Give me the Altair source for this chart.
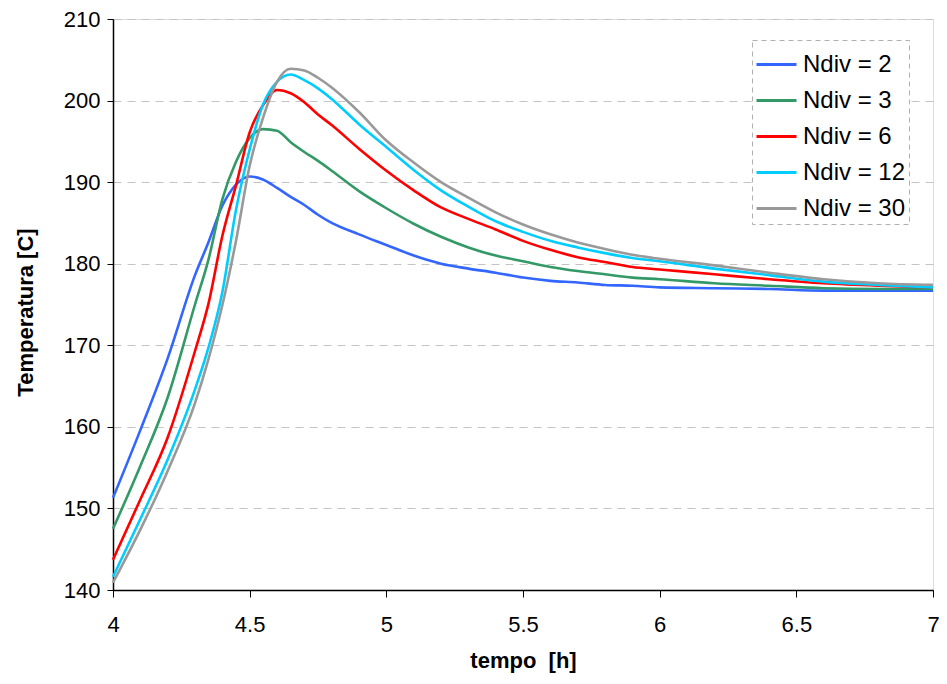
import altair as alt
import pandas as pd

# time [h]
tempo = [4.0, 4.1, 4.2, 4.3, 4.35, 4.4, 4.45, 4.5, 4.55, 4.6, 4.65, 4.7, 4.75, 4.8,
         4.9, 5.0, 5.1, 5.2, 5.3, 5.4, 5.5, 5.6, 5.7, 5.8, 5.9, 6.0, 6.2, 6.4, 6.6, 6.8, 7.0]

ndiv2 = [151.3, 159.6, 168.4, 178.6, 182.7, 187.1, 189.7, 190.7, 190.3, 189.3, 188.2, 187.2,
         186.0, 185.0, 183.6, 182.3, 181.0, 180.0, 179.4, 178.9, 178.3, 177.9, 177.7, 177.4,
         177.3, 177.1, 177.0, 176.9, 176.7, 176.7, 176.7]
ndiv3 = [147.5, 155.2, 163.6, 175.0, 180.6, 187.9, 192.5, 195.4, 196.5, 196.3, 194.9, 193.7,
         192.6, 191.4, 188.9, 186.8, 184.9, 183.3, 182.0, 181.0, 180.3, 179.6, 179.1, 178.7,
         178.3, 178.1, 177.6, 177.3, 177.0, 176.9, 176.9]
ndiv6 = [143.7, 151.1, 158.7, 169.3, 175.2, 183.4, 189.6, 196.1, 199.5, 201.3, 200.9, 199.8,
         198.3, 197.0, 194.1, 191.4, 189.0, 186.9, 185.5, 184.2, 182.8, 181.7, 180.8, 180.2,
         179.6, 179.3, 178.7, 178.1, 177.6, 177.3, 177.1]
ndiv12 = [141.6, 148.7, 156.0, 164.6, 169.8, 176.5, 186.6, 194.0, 199.6, 202.3, 203.2, 202.5,
          201.5, 200.2, 197.1, 194.3, 191.5, 189.0, 187.0, 185.2, 183.9, 182.8, 182.0, 181.3,
          180.7, 180.3, 179.4, 178.6, 177.8, 177.4, 177.1]
ndiv30 = [140.9, 147.4, 154.6, 162.9, 168.4, 174.9, 182.8, 192.0, 198.0, 202.3, 203.9, 203.7,
          202.8, 201.6, 198.6, 195.1, 192.4, 190.0, 188.1, 186.3, 184.8, 183.6, 182.6, 181.8,
          181.1, 180.6, 179.8, 178.9, 178.1, 177.6, 177.4]

series_names = ["Ndiv = 2", "Ndiv = 3", "Ndiv = 6", "Ndiv = 12", "Ndiv = 30"]
series_vals = [ndiv2, ndiv3, ndiv6, ndiv12, ndiv30]
series_colors = ["#3366FF", "#339966", "#FF0000", "#00CCFF", "#999999"]

x_ticks = [4, 4.5, 5, 5.5, 6, 6.5, 7]
y_ticks = [140, 150, 160, 170, 180, 190, 200, 210]

rows = []
for name, vals in zip(series_names, series_vals):
    for t, v in zip(tempo, vals):
        rows.append({"tempo": t, "T": v, "serie": name})
df = pd.DataFrame(rows)

FONT = "Liberation Sans"

chart = alt.Chart(df).mark_line(strokeWidth=2.6, interpolate="monotone").encode(
    x=alt.X("tempo:Q",
            scale=alt.Scale(domain=[4, 7], nice=False, zero=False),
            axis=alt.Axis(values=x_ticks, labelExpr="datum.value",
                          title="tempo\u00a0\u00a0[h]",
                          grid=False, tickSize=7, labelPadding=17, labelFontSize=22,
                          titleFontSize=22, titleFontWeight="bold", titlePadding=15,
                          domainColor="black", tickColor="black", domainWidth=1.5,
                          labelFlush=False)),
    y=alt.Y("T:Q",
            scale=alt.Scale(domain=[140, 210], nice=False, zero=False),
            axis=alt.Axis(values=y_ticks, title="Temperatura [C]", grid=True,
                          gridDash=[8, 6], gridColor="#c4c4c4", gridWidth=1,
                          tickSize=6, labelPadding=7, labelFontSize=22,
                          titleFontSize=22, titleFontWeight="bold",
                          titleX=-88, titleY=293, titleAngle=270, titleBaseline="middle",
                          titleAlign="center",
                          domainColor="black", tickColor="black", domainWidth=1.5)),
    color=alt.Color("serie:N",
                    scale=alt.Scale(domain=series_names, range=series_colors),
                    sort=series_names,
                    legend=alt.Legend(title=None, orient="none", legendX=639, legendY=21,
                                      symbolType="stroke", symbolSize=1600,
                                      symbolStrokeWidth=3, labelFontSize=24,
                                      labelOffset=5, rowPadding=2, padding=3,
                                      fillColor="white", strokeColor="#b0b0b0",
                                      labelLimit=250)),
    order=alt.Order("tempo:Q"),
).properties(
    width=820, height=571,
    autosize=alt.AutoSizeParams(type="none"),
    padding={"left": 105, "top": 11, "right": 6, "bottom": 86},
).configure_view(
    stroke="#b8b8b8", strokeWidth=1.2
).configure(
    font=FONT
).configure_axis(
    labelFont=FONT, titleFont=FONT, labelColor="black", titleColor="black"
).configure_legend(
    labelFont=FONT, labelColor="black", strokeDash=[5, 4]
)

chart.save("out.html", embed_options={"renderer": "svg", "actions": False})
